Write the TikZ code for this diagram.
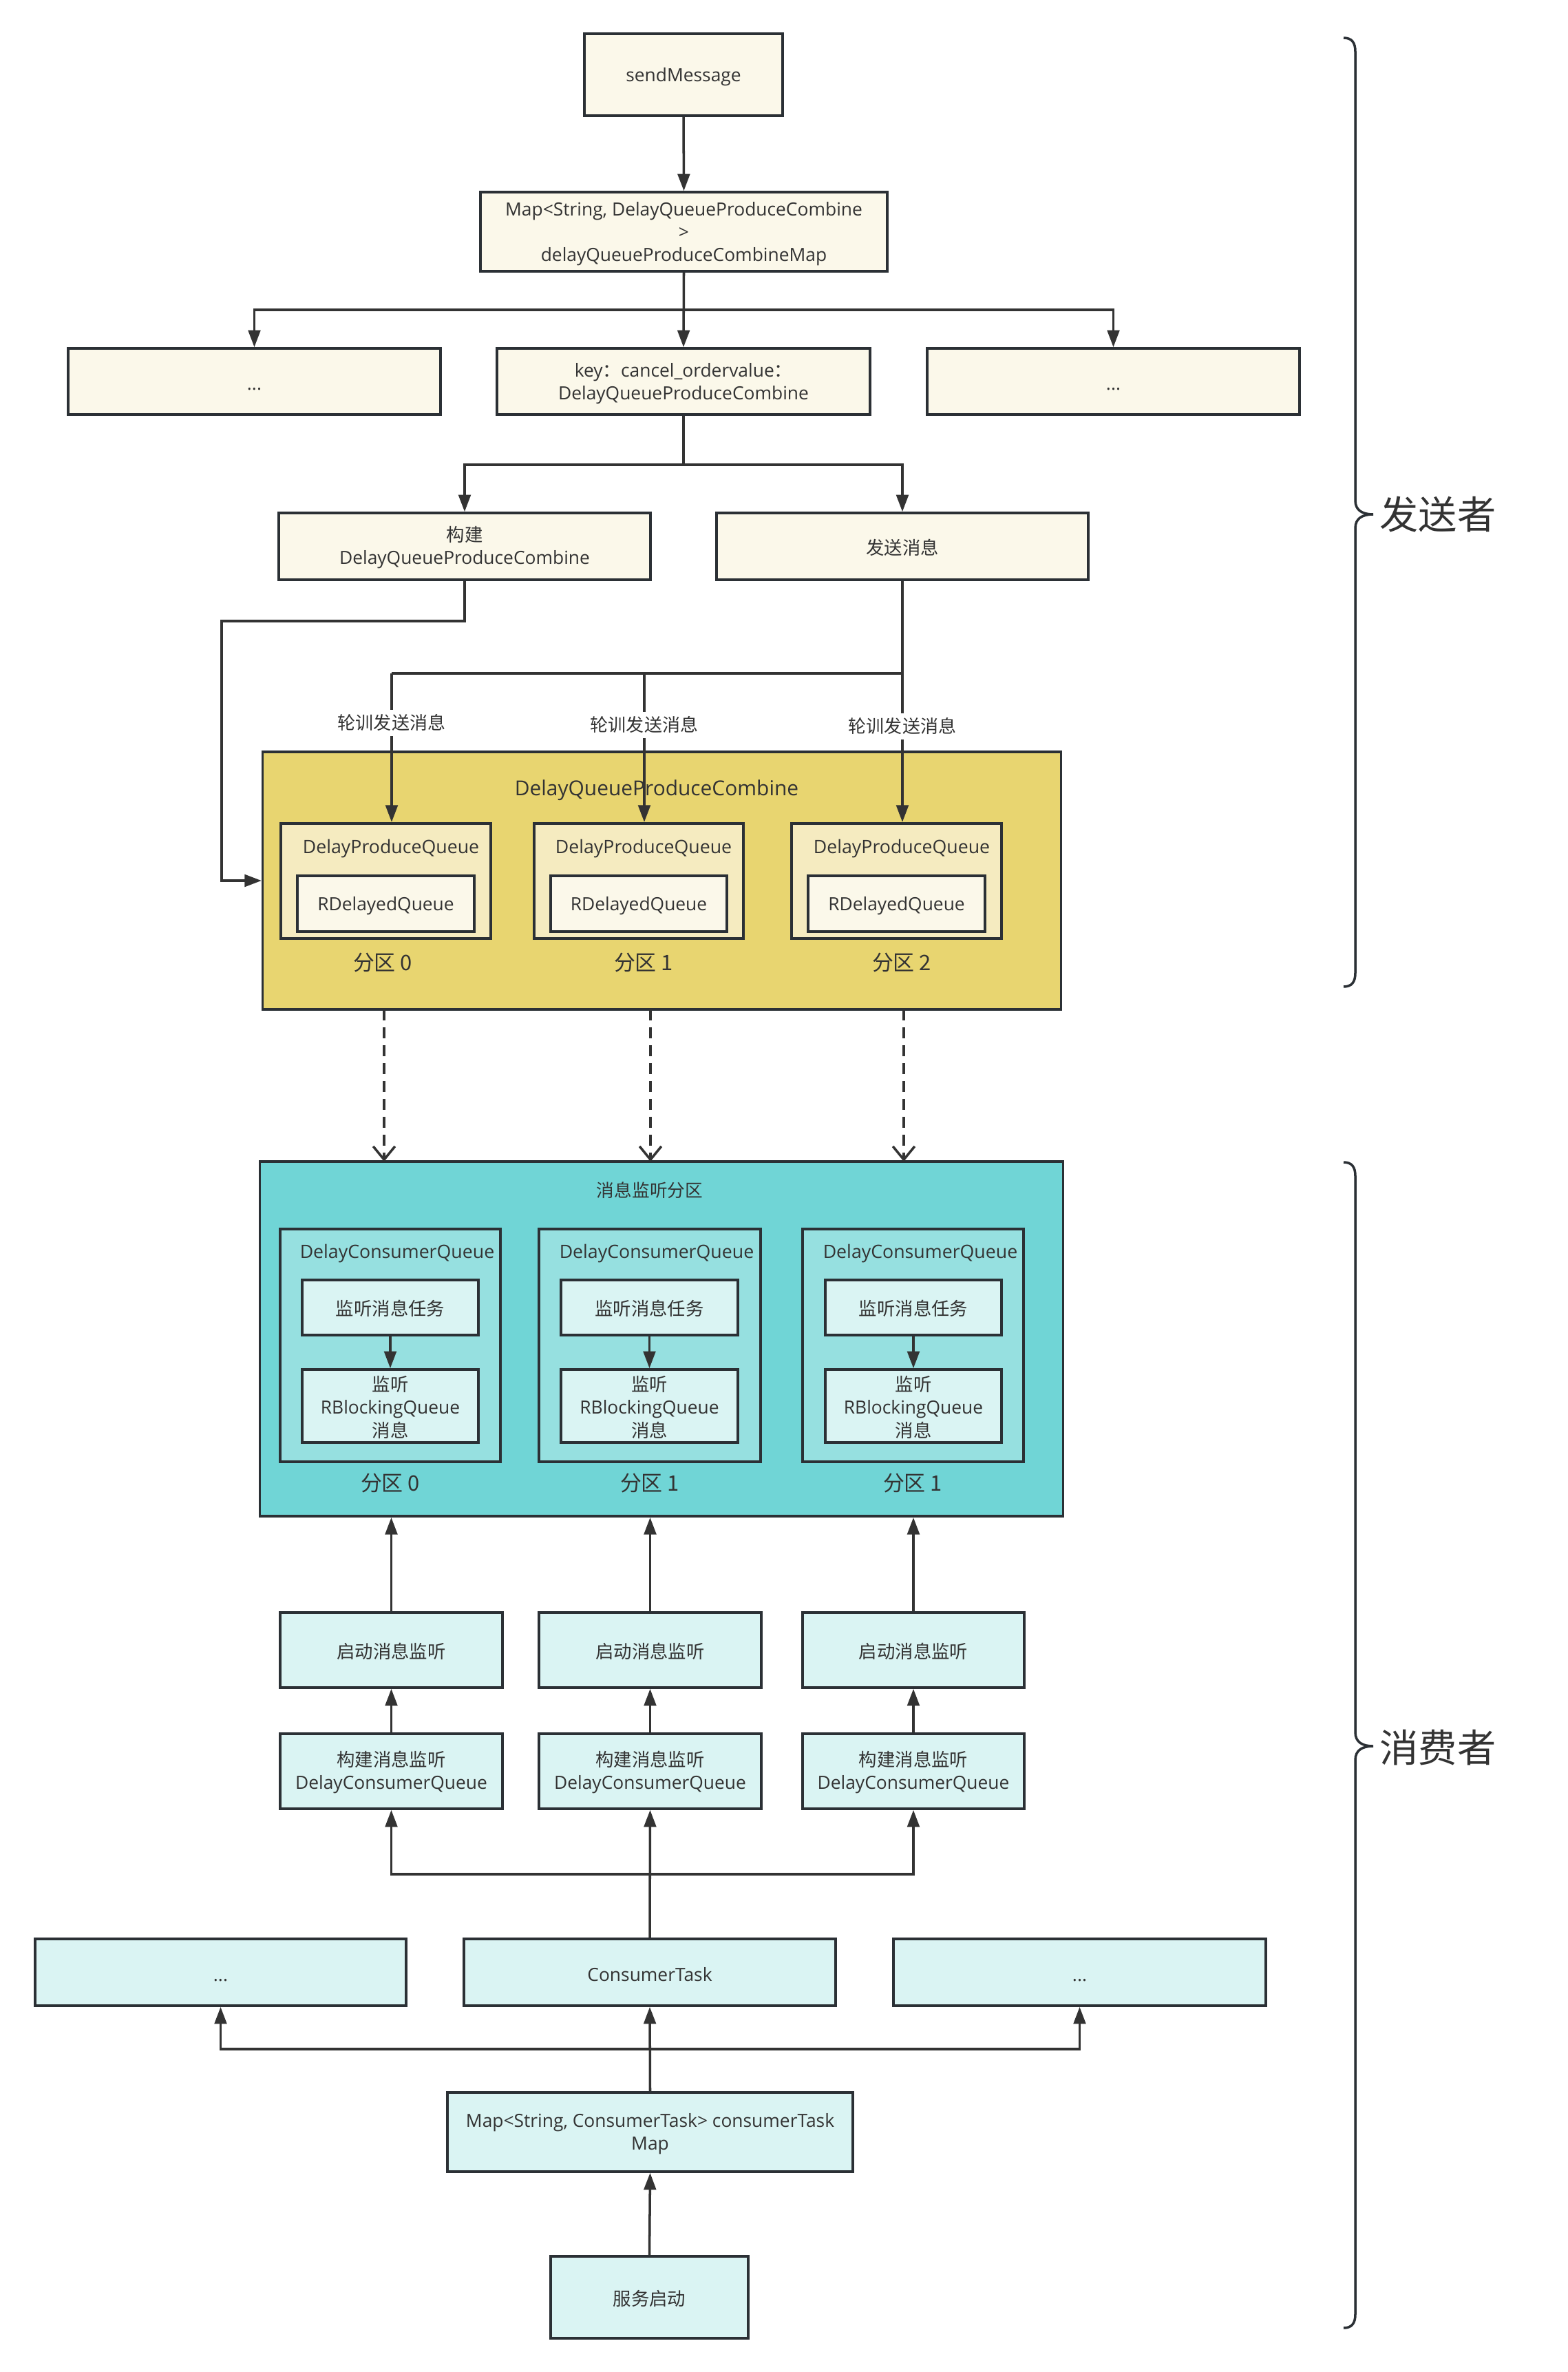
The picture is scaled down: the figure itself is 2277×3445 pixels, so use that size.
\documentclass[tikz,border=0pt]{standalone}
\usepackage{fontspec}
\setmainfont{Open Sans}
\newfontfamily\cjk{Noto Sans CJK SC}
\usetikzlibrary{arrows.meta}
\definecolor{ink}{HTML}{333333}
\definecolor{bord}{HTML}{2B3035}
\definecolor{cream}{HTML}{FBF8EA}
\definecolor{ybig}{HTML}{E8D570}
\definecolor{ymid}{HTML}{F5EBC0}
\definecolor{cbig}{HTML}{70D5D6}
\definecolor{cmid}{HTML}{96E0E0}
\definecolor{clite}{HTML}{DAF4F3}
\tikzset{
  base/.style={draw=bord, line width=1pt, inner sep=0pt, align=center, text=ink,
    font=\fontsize{7.5}{9.4}\selectfont},
  creambox/.style={base, fill=cream},
  ybigbox/.style={base, fill=ybig},
  ymidbox/.style={base, fill=ymid},
  cbigbox/.style={base, fill=cbig},
  cmidbox/.style={base, fill=cmid},
  litebox/.style={base, fill=clite},
  txt/.style={text=ink, inner sep=0pt, align=center, font=\fontsize{7.5}{9.4}\selectfont},
  cjktxt/.style={text=ink, inner sep=0pt, align=center, font=\cjk\fontsize{7.4}{9.4}\selectfont},
  parttxt/.style={text=ink, inner sep=0pt, font=\cjk\fontsize{8.8}{10}\selectfont},
  conn/.style={draw=ink, line width=1pt},
  arr/.style={conn, -{Triangle[length=7pt,width=5pt]}},
  darr/.style={conn, dash pattern=on 0.16cm off 0.1cm, -{Straight Barb[length=5.5pt,width=9pt,line width=1pt]}},
  brace/.style={draw=bord, line width=1pt},
}
\newcommand\mybox[7]{\node[#2, minimum width=#5*0.01cm, minimum height=#6*0.01cm] (#1) at (#3,#4) {\rule{0pt}{7.4pt}#7};}
\begin{document}
\begin{tikzpicture}[x=0.01cm,y=-0.01cm]
\path[fill=white] (0,0) rectangle (2277,3445);

% ---------------- sender part ----------------
\mybox{send}{creambox}{993}{108.5}{288}{119}{sendMessage}
\mybox{mapp}{creambox}{993.5}{336.5}{591}{115}{Map<String, DelayQueueProduceCombine\\>\\delayQueueProduceCombineMap}
\mybox{dotsA}{creambox}{369.5}{554}{541}{96}{...}
\mybox{key}{creambox}{993}{554}{542}{96}{key{\cjk ：}cancel\_ordervalue{\cjk ：}\\DelayQueueProduceCombine}
\mybox{dotsB}{creambox}{1617.5}{554}{541}{96}{...}
\mybox{build}{creambox}{675}{793.5}{540}{97}{{\cjk 构建}\\DelayQueueProduceCombine}
\mybox{sendm}{creambox}{1311}{793.5}{540}{97}{{\cjk 发送消息}}

\node[ybigbox, minimum width=11.59cm, minimum height=3.74cm] (yellow) at (961.5,1279) {};
\node[txt, font=\fontsize{8.5}{10}\selectfont] (ytitle) at (954,1148) {DelayQueueProduceCombine};

\node[ymidbox, minimum width=3.05cm, minimum height=1.67cm] (dpqA) at (560.5,1279.5) {};
\node[ymidbox, minimum width=3.04cm, minimum height=1.67cm] (dpqB) at (928,1279.5) {};
\node[ymidbox, minimum width=3.05cm, minimum height=1.67cm] (dpqC) at (1302.5,1279.5) {};
\node[txt, font=\fontsize{7.6}{9}\selectfont] (dpqlA) at (568,1233) {DelayProduceQueue};
\node[txt, font=\fontsize{7.6}{9}\selectfont] (dpqlB) at (935,1233) {DelayProduceQueue};
\node[txt, font=\fontsize{7.6}{9}\selectfont] (dpqlC) at (1310,1233) {DelayProduceQueue};
\mybox{rdqA}{creambox}{560.5}{1312.5}{257}{81}{RDelayedQueue}
\mybox{rdqB}{creambox}{928}{1312.5}{256}{81}{RDelayedQueue}
\mybox{rdqC}{creambox}{1302.5}{1312.5}{257}{81}{RDelayedQueue}
\node[parttxt] (pA) at (556,1398) {分区 0};
\node[parttxt] (pB) at (935,1398) {分区 1};
\node[parttxt] (pC) at (1310,1398) {分区 2};

% connectors (sender)
\coordinate (j1) at (993,450);
\coordinate (j2) at (993,675);
\coordinate (k1) at (322,902);
\coordinate (j3) at (1311,978);
\coordinate (j4) at (569,978);
\coordinate (j5) at (936,978);
\coordinate (t1) at (569,1194);
\coordinate (t2) at (936,1194);
\coordinate (t3) at (1311,1194);
\draw[arr] (send.south) -- (mapp.north);
\draw[arr] (mapp.south) -- (key.north);
\draw[arr] (j1) -| (dotsA.north);
\draw[arr] (j1) -| (dotsB.north);
\draw[conn] (key.south) -- (j2);
\draw[arr] (j2) -| (build.north);
\draw[arr] (j2) -| (sendm.north);
\draw[arr] (build.south) |- (k1) |- (yellow.west);
\draw[conn] (sendm.south) -- (j3) -- (j4);
\draw[arr] (j4) -- (t1);
\draw[arr] (j5) -- (t2);
\draw[arr] (j3) -- (t3);
\node[cjktxt, fill=white, inner ysep=2pt] (lA) at (569,1050) {轮训发送消息};
\node[cjktxt, fill=white, inner ysep=2pt] (lB) at (936,1053) {轮训发送消息};
\node[cjktxt, fill=white, inner ysep=2pt] (lC) at (1311,1055) {轮训发送消息};

% ---------------- consumer part ----------------
\node[cbigbox, minimum width=11.66cm, minimum height=5.15cm] (cyan) at (961,1944.5) {};
\node[cjktxt, font=\cjk\fontsize{7.3}{9}\selectfont] (ctitle) at (944,1729) {消息监听分区};
\node[cmidbox, minimum width=3.20cm, minimum height=3.38cm] (dcqA) at (567,1954) {};
\node[cmidbox, minimum width=3.22cm, minimum height=3.38cm] (dcqB) at (944,1954) {};
\node[cmidbox, minimum width=3.21cm, minimum height=3.38cm] (dcqC) at (1326.5,1954) {};
\node[txt, font=\fontsize{7.6}{9}\selectfont] (dcqlA) at (577,1821) {DelayConsumerQueue};
\node[txt, font=\fontsize{7.6}{9}\selectfont] (dcqlB) at (954,1821) {DelayConsumerQueue};
\node[txt, font=\fontsize{7.6}{9}\selectfont] (dcqlC) at (1337,1821) {DelayConsumerQueue};
\mybox{taskA}{litebox}{567}{1899}{256}{80}{{\cjk 监听消息任务}}
\mybox{taskB}{litebox}{943.5}{1899}{257}{80}{{\cjk 监听消息任务}}
\mybox{taskC}{litebox}{1327}{1899}{256}{80}{{\cjk 监听消息任务}}
\mybox{rbA}{litebox}{567}{2042}{256}{106}{{\cjk 监听}\\RBlockingQueue\\{\cjk 消息}}
\mybox{rbB}{litebox}{943.5}{2042}{257}{106}{{\cjk 监听}\\RBlockingQueue\\{\cjk 消息}}
\mybox{rbC}{litebox}{1327}{2042}{256}{106}{{\cjk 监听}\\RBlockingQueue\\{\cjk 消息}}
\node[parttxt] (qA) at (567,2154) {分区 0};
\node[parttxt] (qB) at (944,2154) {分区 1};
\node[parttxt] (qC) at (1326,2154) {分区 1};
\draw[arr] (taskA.south) -- (rbA.north);
\draw[arr] (taskB.south) -- (rbB.north);
\draw[arr] (taskC.south) -- (rbC.north);

% dashed arrows yellow -> cyan
\coordinate (ds1) at (558,1466);
\coordinate (de1) at (558,1687);
\coordinate (ds2) at (945,1466);
\coordinate (de2) at (945,1687);
\coordinate (ds3) at (1313,1466);
\coordinate (de3) at (1313,1687);
\draw[darr] (ds1) -- (de1);
\draw[darr] (ds2) -- (de2);
\draw[darr] (ds3) -- (de3);

\mybox{startA}{litebox}{568.5}{2396.5}{323}{109}{{\cjk 启动消息监听}}
\mybox{startB}{litebox}{944.5}{2396.5}{323}{109}{{\cjk 启动消息监听}}
\mybox{startC}{litebox}{1327}{2396.5}{322}{109}{{\cjk 启动消息监听}}
\mybox{bcA}{litebox}{568.5}{2572.5}{323}{109}{{\cjk 构建消息监听}\\DelayConsumerQueue}
\mybox{bcB}{litebox}{944.5}{2572.5}{323}{109}{{\cjk 构建消息监听}\\DelayConsumerQueue}
\mybox{bcC}{litebox}{1327}{2572.5}{322}{109}{{\cjk 构建消息监听}\\DelayConsumerQueue}
\mybox{dotsL}{litebox}{320.5}{2864.5}{539}{97}{...}
\mybox{ct}{litebox}{944}{2864.5}{540}{97}{ConsumerTask}
\mybox{dotsR}{litebox}{1568.5}{2864.5}{541}{97}{...}
\mybox{mapc}{litebox}{944.5}{3096.5}{589}{115}{Map<String, ConsumerTask> consumerTask\\Map}
\mybox{svc}{litebox}{943.5}{3336.5}{287}{119}{{\cjk 服务启动}}

\draw[arr] (startA.north) -- (startA.north |- cyan.south);
\draw[arr] (startB.north) -- (startB.north |- cyan.south);
\draw[arr] (startC.north) -- (startC.north |- cyan.south);
\draw[arr] (bcA.north) -- (startA.south);
\draw[arr] (bcB.north) -- (startB.south);
\draw[arr] (bcC.north) -- (startC.south);
\coordinate (j6) at (944.5,2722);
\draw[arr] (j6) -| (bcA.south);
\draw[arr] (j6) -| (bcC.south);
\draw[arr] (ct.north) -- (bcB.south);
\coordinate (j7) at (944,2976);
\draw[arr] (mapc.north) -- (ct.south);
\draw[arr] (j7) -| (dotsL.south);
\draw[arr] (j7) -| (dotsR.south);
\draw[arr] (svc.north) -- (mapc.south);

% ---------------- braces ----------------
\draw[brace] (1952,55) .. controls (1964,55) and (1969,62) .. (1969,75) -- (1969,727)
  .. controls (1969,741) and (1979,747) .. (1995,747)
  .. controls (1979,747) and (1969,753) .. (1969,767) -- (1969,1413)
  .. controls (1969,1426) and (1964,1433) .. (1952,1433);
\draw[brace] (1952,1688) .. controls (1964,1688) and (1969,1695) .. (1969,1708) -- (1969,2516)
  .. controls (1969,2530) and (1979,2536) .. (1995,2536)
  .. controls (1979,2536) and (1969,2542) .. (1969,2556) -- (1969,3361)
  .. controls (1969,3374) and (1964,3381) .. (1952,3381);
\node[anchor=west, text=ink, inner sep=0pt, font=\cjk\fontsize{16}{16}\selectfont] (sender) at (2004,747) {发送者};
\node[anchor=west, text=ink, inner sep=0pt, font=\cjk\fontsize{16}{16}\selectfont] (consumer) at (2004,2538) {消费者};
\end{tikzpicture}
\end{document}
